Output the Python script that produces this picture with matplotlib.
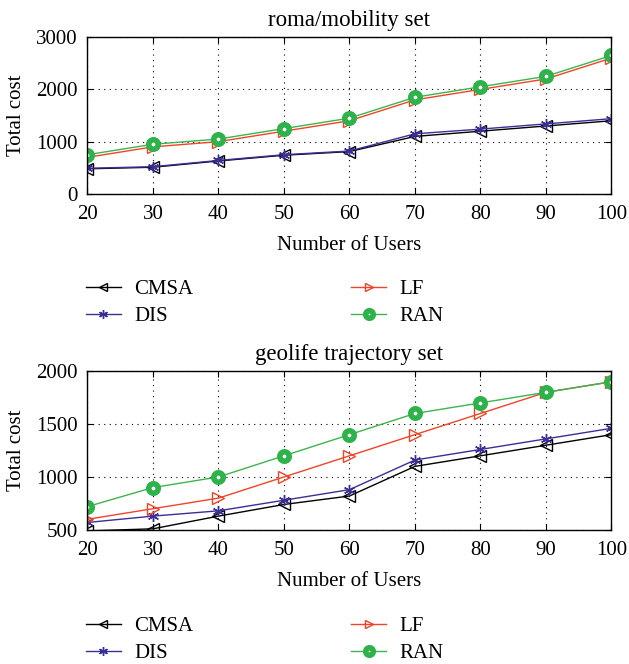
import matplotlib
matplotlib.use("Agg")
from matplotlib import pyplot as plt

users = [20, 30, 40, 50, 60, 70, 80, 90, 100]

# roma/mobility set
roma_cmsa = [480, 510, 630, 740, 810, 1100, 1200, 1300, 1400]
roma_dis = [490, 520, 640, 750, 820, 1150, 1240, 1340, 1440]
roma_lf = [700, 900, 1000, 1200, 1400, 1800, 2000, 2200, 2600]
roma_ran = [750, 950, 1050, 1250, 1450, 1850, 2050, 2250, 2650]

# geolife trajectory set
geo_cmsa = [490, 510, 630, 740, 820, 1100, 1200, 1300, 1400]
geo_dis = [570, 630, 680, 780, 880, 1160, 1260, 1360, 1460]
geo_lf = [600, 700, 800, 1000, 1200, 1400, 1600, 1800, 1900]
geo_ran = [720, 900, 1000, 1200, 1400, 1600, 1700, 1800, 1900]

plt.rcParams["font.family"] = ["Liberation Serif", "DejaVu Serif"]

styles = {
    "CMSA": dict(color="black", marker="<", mfc="none", ms=8, mew=1.0),
    "DIS": dict(color="#3a2f96", marker=(6, 2, 0), ms=8, mew=1.0),
    "LF": dict(color="#f04428", marker=">", mfc="none", ms=8, mew=1.0),
    "RAN": dict(color="#3cb54e", marker="o", mfc="white", mec="#2eb24a", ms=6.8, mew=4.0),
}


def draw(ax, title, series, yticks):
    for name, vals in series:
        ax.plot(users, vals, lw=1.0, label=name, **styles[name])
    ax.set_title(title, fontsize=16.5, pad=8)
    ax.set_xlim(20, 100)
    ax.set_ylim(yticks[0], yticks[-1])
    ax.set_xticks(users)
    ax.set_yticks(yticks)
    ax.grid(True, color="black", linestyle=(0, (1, 4)), linewidth=0.8)
    ax.tick_params(direction="in", labelsize=15, top=True, right=True, length=4)
    ax.tick_params(axis="x", pad=8)
    ax.tick_params(axis="y", pad=7)
    ax.set_xlabel("Number of Users", fontsize=15, labelpad=9)
    ax.set_ylabel("Total cost", fontsize=15, labelpad=7)
    for s in ax.spines.values():
        s.set_linewidth(1.0)
    ax.legend(loc="upper left", bbox_to_anchor=(-0.003, -0.545), ncol=2,
              frameon=False, fontsize=15, handlelength=1.68, handletextpad=0.63,
              columnspacing=7.6, borderpad=0, borderaxespad=0, labelspacing=0.38,
              markerscale=0.8)


fig = plt.figure(figsize=(6.29, 6.64), dpi=100)
ax1 = fig.add_axes([0.139, 0.708, 0.833, 0.236])
ax2 = fig.add_axes([0.139, 0.202, 0.833, 0.239])

draw(ax1, "roma/mobility set",
     [("CMSA", roma_cmsa), ("DIS", roma_dis), ("LF", roma_lf), ("RAN", roma_ran)],
     [0, 1000, 2000, 3000])
draw(ax2, "geolife trajectory set",
     [("CMSA", geo_cmsa), ("DIS", geo_dis), ("LF", geo_lf), ("RAN", geo_ran)],
     [500, 1000, 1500, 2000])

fig.savefig("out.png", dpi=100)
